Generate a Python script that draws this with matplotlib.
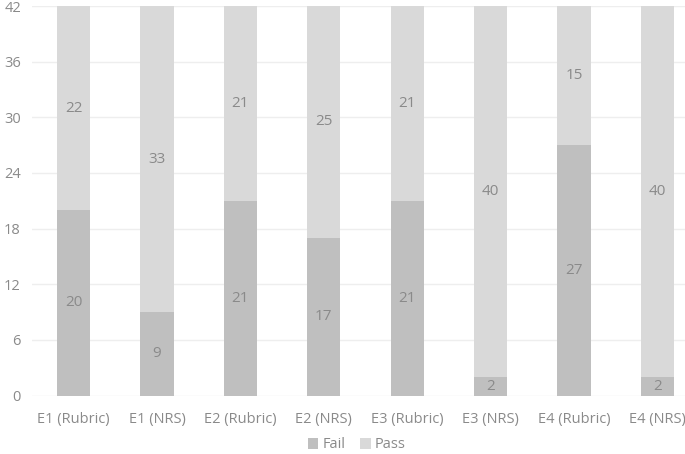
import matplotlib.pyplot as plt
import numpy as np

categorias = ['E1 (Rubric)', 'E1 (NRS)', 'E2 (Rubric)', 'E2 (NRS)',
              'E3 (Rubric)', 'E3 (NRS)', 'E4 (Rubric)', 'E4 (NRS)']
fail = [20, 9, 21, 17, 21, 2, 27, 2]
pass_ = [22, 33, 21, 25, 21, 40, 15, 40]

gris_texto = '#8a8a8a'
plt.rcParams['font.family'] = ['Open Sans', 'DejaVu Sans']

fig = plt.figure(figsize=(6.85, 4.54), dpi=100)
ax = fig.add_axes([32 / 685, 1 - 395.5 / 454, 667 / 685, 389.5 / 454])

x = np.arange(len(categorias))
ancho = 0.4
b1 = ax.bar(x, fail, ancho, color='#bfbfbf', label='Fail', zorder=2)
b2 = ax.bar(x, pass_, ancho, bottom=fail, color='#d9d9d9', label='Pass', zorder=2)

# etiquetas centradas en cada segmento
for barras, valores in ((b1, fail), (b2, pass_)):
    for rect, v in zip(barras, valores):
        ax.text(rect.get_x() + rect.get_width() / 2, rect.get_y() + rect.get_height() / 2, str(v),
                ha='center', va='center', fontsize=11, color=gris_texto)

ax.set_xlim(-0.5, len(categorias) - 0.5)
ax.set_ylim(0, 42)
ax.set_yticks(range(0, 43, 6))
ax.set_xticks(x)
ax.set_xticklabels(categorias)
ax.yaxis.grid(True, color='#eeeeee', linewidth=1, zorder=0)
ax.set_axisbelow(True)
for s in ax.spines.values():
    s.set_visible(False)
ax.tick_params(length=0, colors=gris_texto, labelsize=10.5)
ax.tick_params(axis='x', pad=12)
ax.tick_params(axis='y', pad=8)

fig.legend(handles=[b1, b2], labels=['Fail', 'Pass'], loc='center', bbox_to_anchor=(357 / 685, 1 - 445 / 454),
           ncol=2, frameon=False, fontsize=10.5, labelcolor=gris_texto, handlelength=0.7, handleheight=0.7,
           handletextpad=0.3, columnspacing=1.0, borderpad=0.2)

fig.savefig('out.png', dpi=100)
